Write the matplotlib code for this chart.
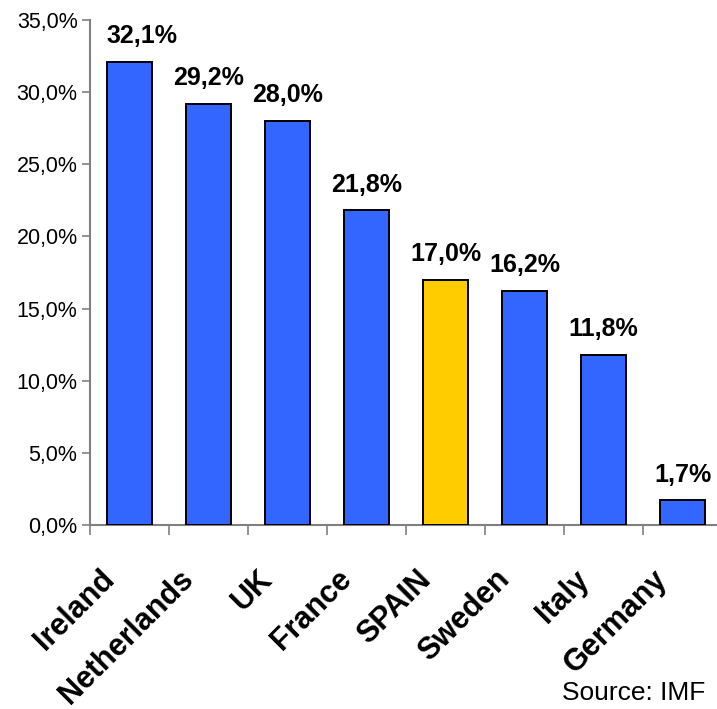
import matplotlib
matplotlib.use("Agg")
import matplotlib.pyplot as plt
from matplotlib.ticker import FuncFormatter, MultipleLocator

countries = ["Ireland", "Netherlands", "UK", "France", "SPAIN", "Sweden", "Italy", "Germany"]
values = [32.1, 29.2, 28.0, 21.8, 17.0, 16.2, 11.8, 1.7]
colors = ["#3366FF"] * 4 + ["#FFCC00"] + ["#3366FF"] * 3

plt.rcParams['font.family'] = ['Liberation Sans', 'DejaVu Sans']

fig = plt.figure(figsize=(7.17, 7.09), dpi=100)
ax = fig.add_axes([90 / 717, 184 / 709, 632 / 717, 505 / 709])

x = list(range(len(countries)))
ax.bar(x, values, width=0.56, color=colors, edgecolor="black", linewidth=1.4, zorder=3)

for xi, v in zip(x, values):
    dx = 9 if xi == 0 else 0  # first label sits a bit off the axis
    ax.annotate(f"{v:.1f}%".replace(".", ","), (xi, v), xytext=(dx, 10), textcoords="offset points",
                ha="center", va="bottom", fontsize=18, fontweight="bold")

ax.set_xlim(-0.5, 7.5)
ax.set_ylim(0, 35)
ax.yaxis.set_major_locator(MultipleLocator(5))
ax.yaxis.set_major_formatter(FuncFormatter(lambda v, p: f"{v:.1f}%".replace(".", ",")))
ax.tick_params(axis="y", direction="out", length=6, width=1.2, color="#808080",
               labelsize=15.5, pad=3)

# tick marks between categories, labels written separately
ax.set_xticks([i - 0.5 for i in range(9)])
ax.set_xticklabels([])
ax.tick_params(axis="x", direction="out", length=7, width=1.2, color="#808080")

for xi, name in zip(x, countries):
    ax.annotate(name, (xi, 0), xycoords=("data", "axes fraction"), xytext=(-14, -36),
                textcoords="offset points", rotation=45, rotation_mode="anchor",
                ha="right", va="center", fontsize=22, fontweight="bold", annotation_clip=False)

for s in ["top", "right"]:
    ax.spines[s].set_visible(False)
for s in ["left", "bottom"]:
    ax.spines[s].set_color("#808080")
    ax.spines[s].set_linewidth(1.5)

fig.text(705 / 717, 9 / 709, "Source: IMF", ha="right", va="baseline", fontsize=19)

fig.savefig("out.png", dpi=100)
